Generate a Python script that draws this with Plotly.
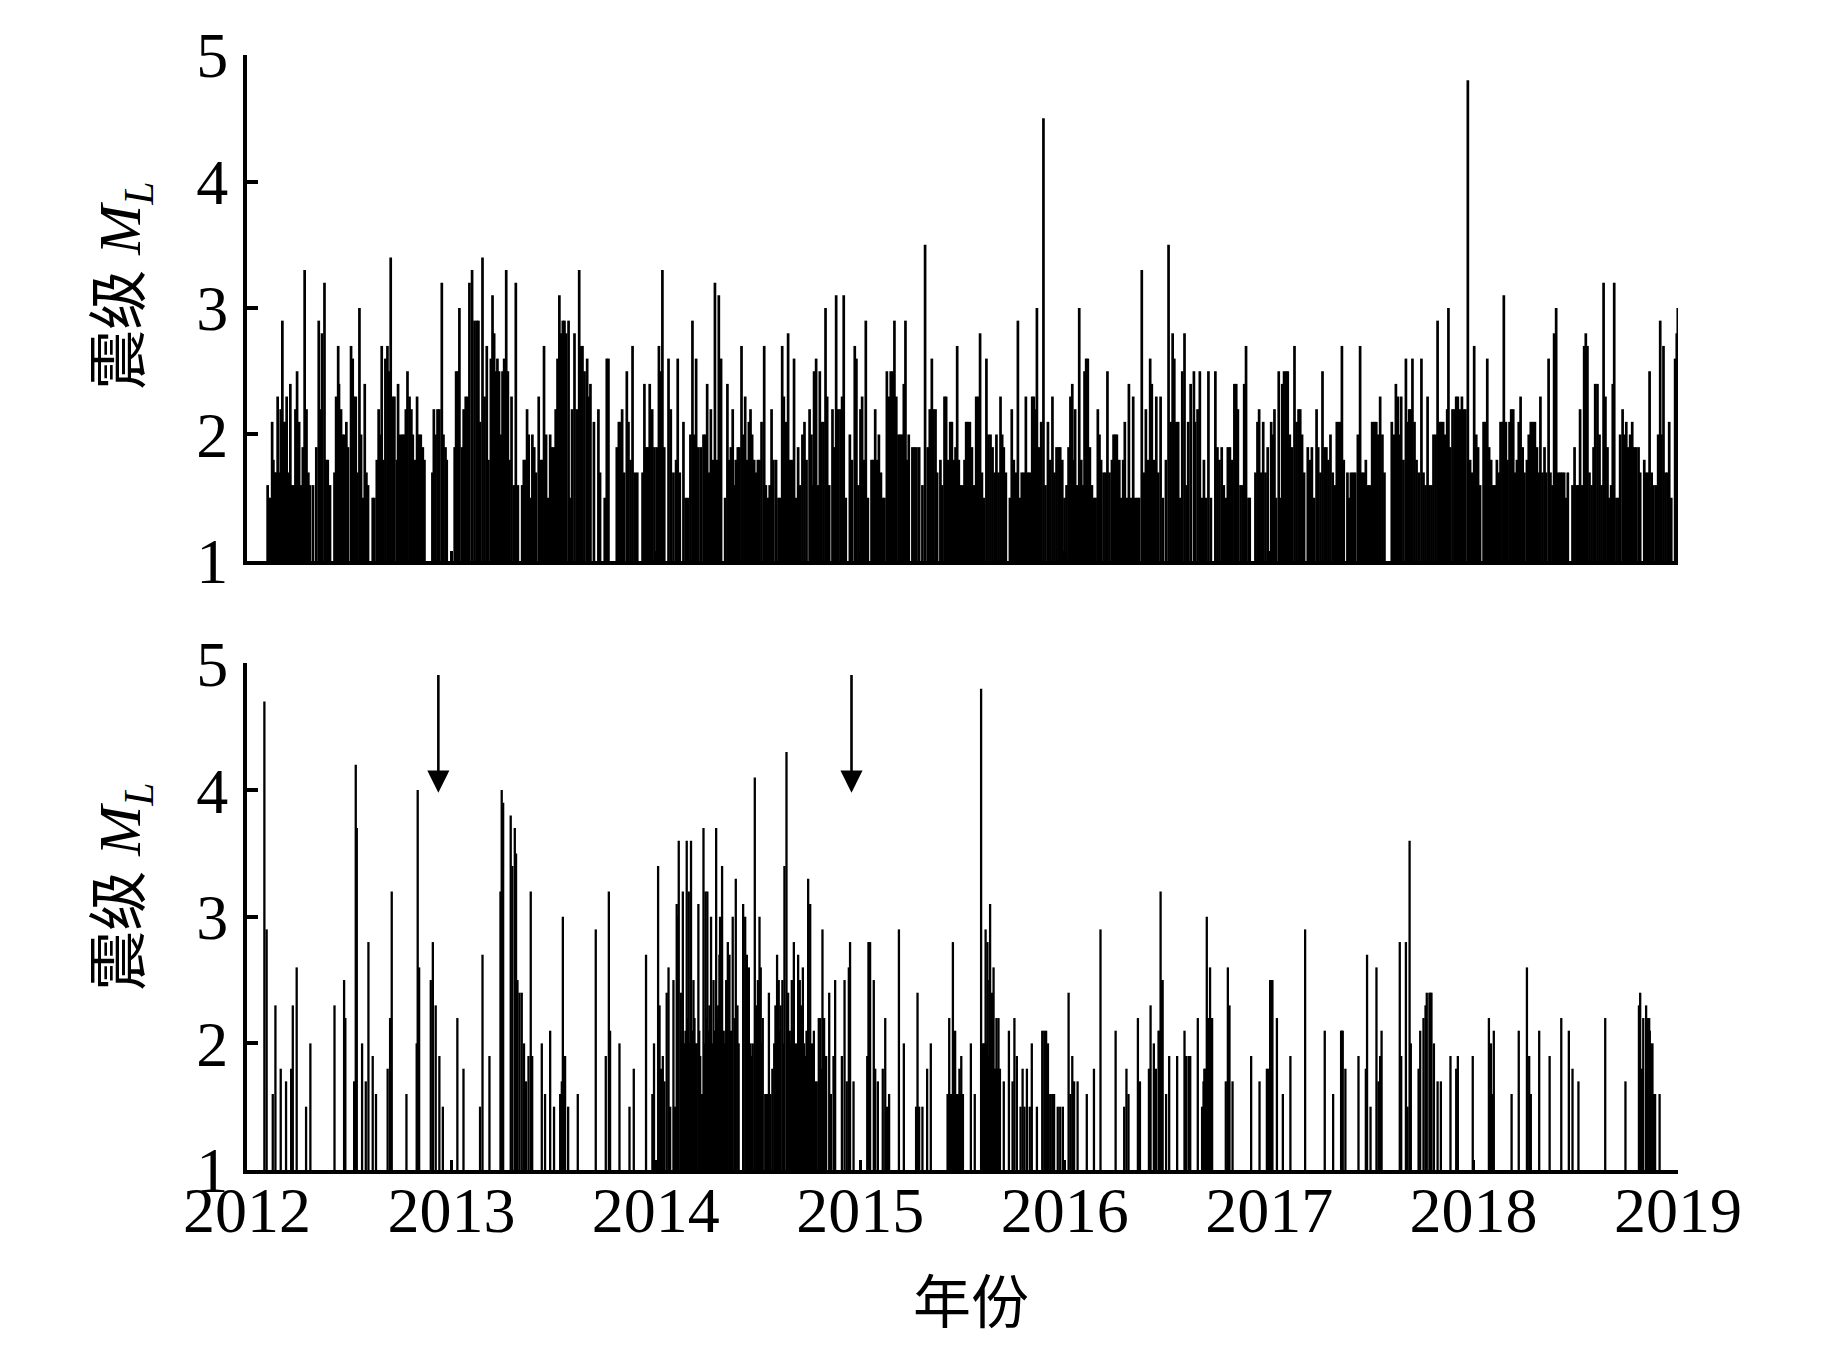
import plotly.graph_objects as go

# Magnitude (ML) events: (decimal year, magnitude)
# ---- upper panel ----
top_2012 = [(2012.101, 1.6), (2012.105, 1.5), (2012.113, 1.5), (2012.123, 2.1), (2012.129, 1.8), (2012.136, 1.7),
            (2012.142, 1.7), (2012.150, 2.3), (2012.158, 1.7), (2012.165, 2.2), (2012.173, 2.9), (2012.180, 2.1),
            (2012.188, 2.1), (2012.194, 2.3), (2012.204, 1.7), (2012.212, 2.4), (2012.219, 1.6), (2012.229, 1.6),
            (2012.237, 2.2), (2012.245, 2.5), (2012.255, 2.1), (2012.264, 1.6), (2012.273, 1.9), (2012.282, 3.3),
            (2012.291, 2.2), (2012.300, 1.7), (2012.308, 1.6), (2012.323, 1.6), (2012.339, 1.9), (2012.351, 2.9),
            (2012.359, 2.2), (2012.367, 2.8), (2012.379, 3.2), (2012.387, 1.8), (2012.395, 1.8), (2012.406, 1.6),
            (2012.428, 1.7), (2012.436, 2.3), (2012.446, 2.7), (2012.450, 2.4), (2012.460, 2.2), (2012.468, 2.0),
            (2012.478, 2.0), (2012.486, 2.1), (2012.494, 1.9), (2012.509, 2.7), (2012.517, 2.6), (2012.522, 2.3),
            (2012.532, 2.3), (2012.540, 1.7), (2012.550, 3.0), (2012.558, 2.0), (2012.566, 1.5), (2012.576, 2.4),
            (2012.584, 1.7), (2012.592, 1.6), (2012.615, 1.5), (2012.623, 1.5), (2012.635, 1.8), (2012.644, 2.2),
            (2012.653, 2.0), (2012.659, 2.7), (2012.667, 1.8), (2012.677, 2.6), (2012.687, 2.7), (2012.695, 2.5),
            (2012.703, 3.4), (2012.713, 2.3), (2012.721, 2.3), (2012.733, 1.8), (2012.739, 2.4), (2012.749, 2.0),
            (2012.760, 2.0), (2012.767, 2.0), (2012.777, 2.2), (2012.785, 2.5), (2012.795, 2.3), (2012.804, 2.2),
            (2012.811, 2.0), (2012.822, 1.8), (2012.832, 2.3), (2012.842, 2.0), (2012.850, 2.0), (2012.860, 1.9),
            (2012.868, 1.8), (2012.907, 1.7), (2012.914, 2.2), (2012.922, 2.0), (2012.932, 2.2), (2012.941, 2.2),
            (2012.953, 3.2), (2012.961, 2.0), (2012.971, 1.9), (2012.977, 1.8)]
top_2013 = [(2013.016, 1.9), (2013.023, 2.5), (2013.031, 2.5), (2013.039, 3.0), (2013.051, 1.9), (2013.060, 2.2),
            (2013.070, 2.3), (2013.080, 2.3), (2013.088, 3.2), (2013.101, 3.3), (2013.113, 2.9), (2013.124, 2.9),
            (2013.132, 2.9), (2013.140, 2.1), (2013.152, 3.4), (2013.162, 2.3), (2013.173, 2.7), (2013.181, 1.8),
            (2013.193, 2.6), (2013.201, 3.1), (2013.209, 2.8), (2013.217, 2.5), (2013.225, 2.6), (2013.233, 2.5),
            (2013.241, 2.0), (2013.250, 2.5), (2013.258, 2.6), (2013.268, 3.3), (2013.276, 2.5), (2013.284, 1.8),
            (2013.294, 2.3), (2013.305, 1.6), (2013.315, 3.2), (2013.325, 1.6), (2013.346, 1.6), (2013.354, 1.8),
            (2013.362, 1.8), (2013.370, 2.2), (2013.378, 2.0), (2013.387, 1.5), (2013.396, 2.0), (2013.405, 1.9),
            (2013.414, 1.7), (2013.427, 2.3), (2013.436, 1.8), (2013.444, 1.8), (2013.453, 2.7), (2013.463, 2.0),
            (2013.471, 1.5), (2013.483, 2.0), (2013.491, 1.9), (2013.501, 1.9), (2013.510, 2.2), (2013.519, 2.6),
            (2013.528, 3.1), (2013.535, 2.8), (2013.545, 2.9), (2013.553, 2.9), (2013.561, 2.8), (2013.573, 2.9),
            (2013.581, 1.5), (2013.590, 2.2), (2013.602, 2.8), (2013.613, 2.2), (2013.625, 3.3), (2013.633, 2.7),
            (2013.641, 2.7), (2013.651, 2.5), (2013.664, 2.6), (2013.672, 2.3), (2013.680, 2.4), (2013.697, 2.1),
            (2013.719, 2.2), (2013.727, 1.7), (2013.750, 1.5), (2013.760, 2.6), (2013.768, 2.6), (2013.809, 1.9),
            (2013.819, 2.1), (2013.827, 2.1), (2013.835, 2.2), (2013.845, 1.7), (2013.858, 2.5), (2013.866, 2.1),
            (2013.876, 1.8), (2013.886, 2.7), (2013.897, 1.7), (2013.909, 1.7), (2013.935, 1.7), (2013.944, 2.4),
            (2013.953, 1.9), (2013.961, 1.9), (2013.970, 2.4), (2013.982, 2.2), (2013.993, 1.9)]
top_2014 = [(2014.005, 1.9), (2014.015, 2.7), (2014.024, 2.5), (2014.032, 3.3), (2014.041, 1.9), (2014.062, 2.6),
            (2014.073, 2.2), (2014.086, 1.7), (2014.099, 1.8), (2014.107, 2.6), (2014.117, 1.7), (2014.135, 2.1),
            (2014.146, 1.5), (2014.158, 1.5), (2014.169, 2.0), (2014.179, 2.9), (2014.187, 2.0), (2014.197, 2.6),
            (2014.208, 1.9), (2014.220, 1.9), (2014.233, 2.0), (2014.241, 2.0), (2014.251, 2.4), (2014.259, 1.7),
            (2014.269, 2.2), (2014.279, 1.8), (2014.289, 3.2), (2014.298, 1.8), (2014.308, 3.1), (2014.319, 2.6),
            (2014.339, 1.5), (2014.350, 2.4), (2014.358, 1.8), (2014.367, 1.9), (2014.376, 2.2), (2014.385, 1.6),
            (2014.391, 1.8), (2014.401, 1.9), (2014.409, 1.9), (2014.419, 2.7), (2014.427, 2.0), (2014.437, 2.3),
            (2014.447, 1.8), (2014.455, 2.1), (2014.463, 2.2), (2014.471, 2.0), (2014.481, 1.8), (2014.489, 1.7),
            (2014.499, 1.8), (2014.507, 1.8), (2014.517, 2.1), (2014.530, 2.7), (2014.538, 1.6), (2014.548, 1.5),
            (2014.557, 1.6), (2014.566, 2.2), (2014.575, 1.8), (2014.588, 1.8), (2014.600, 1.5), (2014.608, 1.5),
            (2014.618, 2.7), (2014.626, 2.3), (2014.636, 2.1), (2014.647, 2.8), (2014.655, 1.8), (2014.667, 1.8),
            (2014.676, 2.6), (2014.686, 1.5), (2014.696, 1.9), (2014.706, 1.6), (2014.717, 2.0), (2014.727, 2.1),
            (2014.737, 1.8), (2014.752, 2.2), (2014.761, 2.0), (2014.769, 1.6), (2014.774, 2.5), (2014.784, 2.6),
            (2014.792, 1.6), (2014.802, 2.5), (2014.810, 2.1), (2014.820, 2.1), (2014.830, 3.0), (2014.838, 2.3),
            (2014.848, 1.6), (2014.864, 2.2), (2014.872, 1.9), (2014.882, 3.1), (2014.892, 2.2), (2014.903, 2.2),
            (2014.911, 2.3), (2014.919, 3.1), (2014.929, 1.5), (2014.949, 2.0), (2014.959, 1.8), (2014.973, 2.7),
            (2014.981, 2.6), (2014.991, 1.6)]
top_2015 = [(2015.001, 2.2), (2015.009, 2.3), (2015.017, 1.8), (2015.027, 2.9), (2015.037, 1.5), (2015.055, 1.8),
            (2015.063, 1.8), (2015.073, 2.2), (2015.081, 1.8), (2015.091, 2.0), (2015.101, 1.7), (2015.110, 1.5),
            (2015.118, 1.5), (2015.130, 2.5), (2015.140, 2.3), (2015.149, 2.5), (2015.159, 2.5), (2015.167, 2.9),
            (2015.176, 2.3), (2015.187, 2.0), (2015.195, 2.0), (2015.203, 2.0), (2015.213, 2.4), (2015.221, 2.9),
            (2015.228, 1.8), (2015.237, 2.0), (2015.255, 1.9), (2015.265, 1.9), (2015.275, 1.9), (2015.288, 1.9),
            (2015.304, 1.6), (2015.317, 3.5), (2015.330, 1.9), (2015.340, 2.2), (2015.350, 2.6), (2015.358, 2.2),
            (2015.368, 2.2), (2015.376, 1.7), (2015.392, 1.8), (2015.401, 1.6), (2015.412, 2.3), (2015.420, 2.3),
            (2015.430, 1.8), (2015.440, 2.1), (2015.448, 2.1), (2015.458, 1.8), (2015.466, 1.9), (2015.474, 2.7),
            (2015.482, 1.8), (2015.492, 1.6), (2015.502, 1.6), (2015.510, 1.8), (2015.518, 2.1), (2015.526, 2.1),
            (2015.536, 2.1), (2015.546, 1.9), (2015.556, 1.6), (2015.567, 2.3), (2015.577, 2.3), (2015.586, 2.8),
            (2015.595, 1.7), (2015.604, 1.5), (2015.617, 2.6), (2015.627, 2.0), (2015.637, 2.0), (2015.647, 1.9),
            (2015.657, 1.7), (2015.666, 2.0), (2015.676, 1.7), (2015.686, 2.3), (2015.694, 2.0), (2015.702, 1.9),
            (2015.712, 1.7), (2015.732, 1.5), (2015.741, 2.2), (2015.751, 1.8), (2015.763, 1.7), (2015.771, 2.9),
            (2015.781, 1.5), (2015.790, 1.7), (2015.800, 1.7), (2015.810, 2.3), (2015.820, 1.7), (2015.829, 1.7),
            (2015.841, 2.3), (2015.849, 2.3), (2015.856, 2.2), (2015.864, 3.0), (2015.874, 1.9), (2015.885, 2.1),
            (2015.896, 4.5), (2015.906, 1.6), (2015.918, 2.1), (2015.929, 1.8), (2015.940, 2.3), (2015.950, 1.7),
            (2015.960, 1.9), (2015.970, 1.9), (2015.978, 1.9), (2015.988, 1.8), (2015.999, 1.5)]
top_2016 = [(2016.009, 1.6), (2016.019, 1.9), (2016.028, 2.3), (2016.037, 2.4), (2016.045, 1.8), (2016.051, 2.2),
            (2016.061, 1.6), (2016.071, 3.0), (2016.081, 1.8), (2016.090, 1.6), (2016.097, 2.5), (2016.105, 2.6),
            (2016.113, 2.6), (2016.123, 1.9), (2016.133, 1.6), (2016.143, 1.5), (2016.151, 1.5), (2016.162, 2.2),
            (2016.170, 2.0), (2016.178, 1.8), (2016.190, 1.7), (2016.200, 1.7), (2016.209, 2.5), (2016.219, 1.7),
            (2016.231, 1.8), (2016.239, 2.0), (2016.247, 2.0), (2016.255, 2.0), (2016.267, 1.8), (2016.276, 1.5),
            (2016.286, 1.8), (2016.294, 2.1), (2016.304, 1.5), (2016.314, 2.4), (2016.324, 1.5), (2016.335, 2.3),
            (2016.345, 1.5), (2016.355, 1.5), (2016.364, 1.5), (2016.377, 3.3), (2016.387, 1.7), (2016.397, 2.2),
            (2016.408, 1.8), (2016.418, 2.6), (2016.426, 2.4), (2016.436, 1.8), (2016.448, 2.3), (2016.457, 1.7),
            (2016.469, 2.3), (2016.480, 1.5), (2016.495, 1.8), (2016.508, 3.5), (2016.518, 2.1), (2016.528, 2.8),
            (2016.536, 2.6), (2016.545, 2.1), (2016.555, 2.1), (2016.565, 1.5), (2016.575, 2.5), (2016.586, 2.8),
            (2016.596, 1.6), (2016.604, 2.1), (2016.616, 2.4), (2016.632, 2.5), (2016.638, 2.1), (2016.650, 2.2),
            (2016.661, 2.5), (2016.671, 1.5), (2016.681, 1.8), (2016.691, 1.5), (2016.703, 2.5), (2016.715, 1.5),
            (2016.737, 2.5), (2016.747, 1.9), (2016.757, 1.8), (2016.768, 1.9), (2016.778, 1.6), (2016.788, 1.5),
            (2016.798, 1.9), (2016.808, 1.9), (2016.819, 1.8), (2016.830, 2.4), (2016.839, 2.4), (2016.847, 2.2),
            (2016.860, 1.6), (2016.870, 1.6), (2016.878, 2.4), (2016.887, 2.7), (2016.899, 1.5), (2016.905, 1.5),
            (2016.933, 1.7), (2016.943, 2.1), (2016.951, 2.2), (2016.961, 1.7), (2016.971, 2.1), (2016.982, 1.7),
            (2016.993, 1.9)]
top_2017 = [(2017.010, 2.1), (2017.018, 2.0), (2017.026, 2.2), (2017.034, 1.5), (2017.047, 2.5), (2017.055, 1.5),
            (2017.064, 2.4), (2017.073, 2.5), (2017.083, 2.5), (2017.091, 2.5), (2017.101, 2.0), (2017.112, 1.9),
            (2017.124, 2.7), (2017.134, 2.1), (2017.144, 2.2), (2017.152, 2.2), (2017.161, 2.0), (2017.171, 1.7),
            (2017.189, 1.9), (2017.199, 1.8), (2017.209, 1.9), (2017.220, 1.5), (2017.232, 2.2), (2017.240, 1.9),
            (2017.251, 1.7), (2017.261, 2.5), (2017.271, 1.9), (2017.280, 1.9), (2017.290, 1.8), (2017.300, 2.0),
            (2017.311, 1.7), (2017.321, 1.6), (2017.331, 2.1), (2017.341, 2.1), (2017.351, 2.1), (2017.356, 2.7),
            (2017.365, 1.8), (2017.383, 1.7), (2017.391, 1.5), (2017.400, 1.7), (2017.411, 1.7), (2017.421, 1.7),
            (2017.434, 2.0), (2017.445, 2.7), (2017.453, 1.7), (2017.463, 1.7), (2017.473, 1.8), (2017.483, 1.6),
            (2017.492, 1.6), (2017.504, 2.1), (2017.514, 2.1), (2017.524, 2.1), (2017.533, 2.0), (2017.543, 2.3),
            (2017.554, 2.0), (2017.564, 1.7), (2017.600, 2.1), (2017.610, 2.0), (2017.620, 2.4), (2017.630, 2.3),
            (2017.638, 2.0), (2017.646, 2.3), (2017.657, 1.8), (2017.669, 2.6), (2017.677, 2.1), (2017.685, 2.2),
            (2017.693, 2.2), (2017.701, 2.6), (2017.711, 2.1), (2017.721, 1.8), (2017.732, 1.7), (2017.745, 2.6),
            (2017.755, 1.7), (2017.765, 1.6), (2017.775, 2.3), (2017.784, 1.6), (2017.794, 1.6), (2017.804, 2.0),
            (2017.814, 2.0), (2017.824, 2.9), (2017.833, 2.1), (2017.842, 2.1), (2017.851, 2.1), (2017.861, 2.0),
            (2017.871, 2.2), (2017.877, 3.0), (2017.886, 1.9), (2017.897, 2.2), (2017.907, 2.2), (2017.915, 2.3),
            (2017.923, 2.3), (2017.933, 2.2), (2017.943, 2.3), (2017.951, 2.2), (2017.960, 2.2), (2017.972, 4.8),
            (2017.983, 1.8), (2017.993, 1.7)]
top_2018 = [(2018.003, 2.7), (2018.013, 2.0), (2018.022, 1.9), (2018.032, 1.6), (2018.049, 2.1), (2018.058, 2.1),
            (2018.067, 2.6), (2018.076, 1.9), (2018.086, 1.8), (2018.096, 1.6), (2018.106, 1.6), (2018.114, 1.8),
            (2018.124, 1.7), (2018.132, 2.1), (2018.142, 2.1), (2018.148, 3.1), (2018.158, 2.1), (2018.166, 1.8),
            (2018.176, 2.1), (2018.184, 2.2), (2018.194, 2.2), (2018.203, 1.7), (2018.212, 1.8), (2018.221, 2.1),
            (2018.230, 2.3), (2018.240, 1.9), (2018.249, 1.7), (2018.261, 1.8), (2018.270, 2.0), (2018.280, 2.1),
            (2018.290, 2.1), (2018.300, 2.1), (2018.310, 1.9), (2018.319, 1.7), (2018.327, 2.3), (2018.337, 1.7),
            (2018.347, 1.9), (2018.355, 1.7), (2018.367, 2.6), (2018.376, 1.7), (2018.386, 1.6), (2018.394, 2.8),
            (2018.404, 3.0), (2018.414, 1.7), (2018.424, 1.7), (2018.433, 1.7), (2018.443, 1.7), (2018.451, 1.5),
            (2018.461, 1.7), (2018.484, 1.6), (2018.494, 1.9), (2018.504, 1.6), (2018.512, 1.6), (2018.521, 2.2),
            (2018.531, 1.6), (2018.541, 2.7), (2018.549, 2.8), (2018.557, 2.7), (2018.567, 1.7), (2018.577, 1.6),
            (2018.587, 1.9), (2018.595, 2.4), (2018.606, 2.4), (2018.616, 2.0), (2018.626, 1.6), (2018.636, 3.2),
            (2018.645, 2.3), (2018.655, 1.9), (2018.663, 1.5), (2018.673, 1.6), (2018.681, 2.4), (2018.688, 3.2),
            (2018.699, 1.5), (2018.709, 1.5), (2018.717, 2.0), (2018.729, 2.2), (2018.737, 2.0), (2018.747, 2.1),
            (2018.756, 1.9), (2018.766, 2.0), (2018.776, 2.1), (2018.786, 1.9), (2018.795, 1.9), (2018.807, 1.9),
            (2018.815, 1.7), (2018.835, 1.8), (2018.843, 1.7), (2018.853, 1.7), (2018.861, 2.5), (2018.871, 1.7),
            (2018.880, 1.6), (2018.892, 1.6), (2018.903, 2.0), (2018.913, 2.9), (2018.919, 2.0), (2018.929, 2.7),
            (2018.939, 1.7), (2018.949, 1.7), (2018.957, 2.1), (2018.967, 1.5), (2018.986, 2.6), (2018.994, 2.8),
            (2018.999, 3.0)]

# ---- lower panel ----
bottom_2012 = [(2012.085, 4.7), (2012.096, 2.9), (2012.126, 1.6), (2012.139, 2.3), (2012.165, 1.8), (2012.191, 1.7),
               (2012.216, 1.8), (2012.224, 2.3), (2012.243, 2.6), (2012.289, 1.5), (2012.310, 2.0), (2012.428, 2.3),
               (2012.475, 2.5), (2012.481, 2.2), (2012.524, 1.7), (2012.532, 4.2), (2012.537, 3.7), (2012.563, 2.0),
               (2012.581, 1.7), (2012.594, 2.8), (2012.615, 1.9), (2012.631, 1.6), (2012.688, 1.8), (2012.700, 2.2),
               (2012.708, 3.2), (2012.780, 1.6), (2012.830, 2.0), (2012.835, 4.0), (2012.842, 2.6), (2012.899, 2.5),
               (2012.909, 2.8), (2012.923, 2.3), (2012.941, 1.9), (2012.958, 1.5)]
bottom_2013 = [(2013.029, 2.2), (2013.059, 1.8), (2013.140, 1.5), (2013.152, 2.7), (2013.186, 1.9), (2013.240, 3.2),
               (2013.246, 4.0), (2013.253, 3.9), (2013.290, 3.8), (2013.298, 3.4), (2013.310, 3.7), (2013.316, 3.5),
               (2013.323, 2.5), (2013.333, 2.4), (2013.344, 2.4), (2013.355, 2.0), (2013.365, 1.7), (2013.377, 1.9),
               (2013.388, 3.2), (2013.395, 1.9), (2013.442, 2.0), (2013.458, 1.6), (2013.483, 2.1), (2013.502, 1.5),
               (2013.532, 1.6), (2013.540, 1.7), (2013.545, 3.0), (2013.556, 1.9), (2013.571, 1.5), (2013.618, 1.6),
               (2013.706, 2.9), (2013.755, 1.9), (2013.770, 3.2), (2013.776, 2.1), (2013.822, 2.0), (2013.871, 1.5),
               (2013.892, 1.8), (2013.952, 2.7), (2013.983, 1.6), (2013.991, 2.0)]
bottom_2014 = [(2014.011, 3.4), (2014.018, 2.3), (2014.026, 1.8), (2014.034, 1.9), (2014.042, 1.7), (2014.053, 2.4),
               (2014.062, 2.6), (2014.070, 1.5), (2014.086, 2.5), (2014.094, 1.5), (2014.102, 3.1), (2014.106, 3.0),
               (2014.112, 3.6), (2014.122, 2.4), (2014.127, 2.0), (2014.132, 3.2), (2014.138, 2.0), (2014.145, 2.1),
               (2014.151, 3.6), (2014.156, 2.2), (2014.161, 3.2), (2014.167, 2.0), (2014.172, 3.6), (2014.178, 2.1),
               (2014.184, 2.5), (2014.189, 2.2), (2014.194, 2.0), (2014.200, 2.0), (2014.208, 3.1), (2014.212, 2.1),
               (2014.217, 1.9), (2014.225, 1.6), (2014.233, 3.7), (2014.238, 2.0), (2014.243, 3.2), (2014.248, 2.2),
               (2014.252, 3.2), (2014.257, 2.1), (2014.262, 2.3), (2014.270, 3.0), (2014.276, 2.0), (2014.282, 2.5),
               (2014.289, 2.1), (2014.295, 3.7), (2014.300, 2.2), (2014.305, 2.3), (2014.311, 2.7), (2014.314, 3.0),
               (2014.324, 3.4), (2014.332, 2.1), (2014.338, 2.0), (2014.344, 2.5), (2014.352, 2.8), (2014.360, 2.7),
               (2014.368, 2.1), (2014.376, 3.0), (2014.385, 2.2), (2014.391, 3.3), (2014.399, 2.3), (2014.405, 2.0),
               (2014.427, 3.1), (2014.437, 3.0), (2014.445, 2.7), (2014.455, 2.6), (2014.463, 2.0), (2014.468, 1.9),
               (2014.474, 2.0), (2014.484, 4.1), (2014.492, 2.3), (2014.499, 2.5), (2014.507, 3.0), (2014.513, 2.6),
               (2014.518, 2.0), (2014.523, 2.2), (2014.535, 1.6), (2014.544, 1.6), (2014.553, 2.4), (2014.561, 1.6),
               (2014.570, 1.8), (2014.579, 2.0), (2014.585, 2.3), (2014.593, 2.7), (2014.601, 2.5), (2014.605, 2.1),
               (2014.610, 2.3), (2014.619, 2.5), (2014.624, 2.0), (2014.629, 3.4), (2014.639, 4.3), (2014.647, 2.4),
               (2014.655, 2.1), (2014.660, 2.0), (2014.665, 2.5), (2014.670, 2.1), (2014.675, 2.8), (2014.681, 2.0),
               (2014.686, 1.6), (2014.691, 2.0), (2014.696, 2.7), (2014.704, 2.5), (2014.711, 2.3), (2014.719, 2.6),
               (2014.725, 2.0), (2014.730, 1.9), (2014.737, 2.1), (2014.745, 3.3), (2014.750, 2.0), (2014.755, 3.1),
               (2014.763, 2.0), (2014.768, 1.9), (2014.773, 2.1), (2014.779, 1.7), (2014.787, 1.7), (2014.797, 2.2),
               (2014.805, 2.2), (2014.810, 1.8), (2014.815, 2.9), (2014.823, 2.2), (2014.828, 1.7), (2014.833, 1.9),
               (2014.848, 2.4), (2014.856, 1.6), (2014.869, 1.9), (2014.877, 2.5), (2014.910, 1.9), (2014.923, 2.5),
               (2014.934, 1.7), (2014.944, 2.6), (2014.950, 2.8), (2014.967, 1.7)]
bottom_2015 = [(2015.034, 1.9), (2015.040, 2.8), (2015.048, 2.8), (2015.066, 2.5), (2015.073, 1.8), (2015.086, 1.7),
               (2015.110, 1.8), (2015.122, 2.2), (2015.130, 1.5), (2015.141, 1.6), (2015.189, 2.9), (2015.213, 2.0),
               (2015.273, 1.5), (2015.280, 2.4), (2015.288, 1.5), (2015.304, 1.5), (2015.327, 1.8), (2015.345, 2.0),
               (2015.427, 1.6), (2015.431, 1.6), (2015.435, 2.2), (2015.443, 1.6), (2015.448, 1.6), (2015.453, 2.8),
               (2015.458, 1.6), (2015.464, 2.1), (2015.470, 1.6), (2015.476, 1.6), (2015.481, 1.6), (2015.485, 1.8),
               (2015.489, 1.6), (2015.494, 1.9), (2015.498, 1.5), (2015.502, 1.6), (2015.541, 2.0), (2015.560, 1.6),
               (2015.591, 4.8), (2015.597, 2.0), (2015.604, 2.0), (2015.608, 2.0), (2015.613, 2.9), (2015.617, 2.0),
               (2015.622, 2.8), (2015.626, 1.9), (2015.631, 2.5), (2015.635, 3.1), (2015.640, 1.9), (2015.644, 2.4),
               (2015.648, 1.9), (2015.652, 2.6), (2015.657, 1.8), (2015.661, 1.8), (2015.666, 2.2), (2015.671, 1.8),
               (2015.676, 2.2), (2015.683, 1.8), (2015.702, 1.7), (2015.727, 2.1), (2015.745, 1.7), (2015.754, 2.2),
               (2015.766, 1.9), (2015.784, 1.5), (2015.794, 1.8), (2015.803, 1.5), (2015.815, 1.8), (2015.829, 1.5),
               (2015.839, 2.0), (2015.864, 1.5), (2015.890, 2.1), (2015.900, 2.1), (2015.909, 2.1), (2015.918, 2.0),
               (2015.929, 1.6), (2015.939, 1.6), (2015.948, 1.6), (2015.966, 1.5), (2015.978, 1.5), (2015.991, 1.5)]
bottom_2016 = [(2016.019, 2.4), (2016.028, 1.6), (2016.037, 1.9), (2016.046, 1.7), (2016.063, 1.7), (2016.108, 1.6),
               (2016.143, 1.8), (2016.175, 2.9), (2016.249, 2.1), (2016.291, 1.5), (2016.302, 1.8), (2016.312, 1.6),
               (2016.358, 2.2), (2016.368, 1.7), (2016.412, 1.8), (2016.420, 2.3), (2016.436, 2.0), (2016.446, 1.8),
               (2016.459, 2.1), (2016.464, 2.1), (2016.469, 3.2), (2016.474, 2.5), (2016.479, 2.5), (2016.496, 1.6),
               (2016.511, 1.9), (2016.550, 1.9), (2016.586, 2.1), (2016.594, 1.9), (2016.606, 1.9), (2016.614, 1.9),
               (2016.651, 2.2), (2016.672, 1.5), (2016.679, 1.7), (2016.683, 1.8), (2016.687, 1.8), (2016.695, 3.0),
               (2016.699, 2.2), (2016.703, 2.2), (2016.707, 2.2), (2016.711, 2.6), (2016.716, 2.2), (2016.721, 2.2),
               (2016.788, 1.7), (2016.798, 2.6), (2016.806, 2.3), (2016.821, 1.7), (2016.912, 1.9), (2016.953, 1.7),
               (2016.989, 1.8), (2016.997, 1.8)]
bottom_2017 = [(2017.005, 2.5), (2017.010, 2.5), (2017.016, 2.5), (2017.038, 2.2), (2017.067, 1.6), (2017.104, 1.9),
               (2017.176, 2.9), (2017.272, 2.1), (2017.313, 1.6), (2017.352, 2.1), (2017.356, 2.1), (2017.360, 2.1),
               (2017.373, 1.8), (2017.437, 1.9), (2017.473, 1.8), (2017.479, 2.7), (2017.496, 1.5), (2017.525, 2.6),
               (2017.535, 1.7), (2017.543, 1.9), (2017.550, 2.1), (2017.639, 2.8), (2017.646, 1.9), (2017.669, 2.8),
               (2017.677, 1.5), (2017.687, 3.6), (2017.693, 2.0), (2017.731, 1.8), (2017.739, 2.1), (2017.755, 2.2),
               (2017.765, 2.3), (2017.771, 2.4), (2017.784, 2.4), (2017.789, 2.4), (2017.794, 2.4), (2017.806, 2.0),
               (2017.824, 1.7), (2017.840, 1.7), (2017.887, 1.9), (2017.915, 1.8), (2017.923, 1.9), (2017.996, 1.9)]
bottom_2018 = [(2018.075, 2.2), (2018.085, 2.0), (2018.091, 1.6), (2018.099, 2.1), (2018.186, 1.6), (2018.221, 2.1),
               (2018.261, 2.6), (2018.272, 1.9), (2018.280, 1.6), (2018.321, 2.1), (2018.372, 1.9), (2018.429, 2.2),
               (2018.466, 2.1), (2018.484, 1.8), (2018.513, 1.7), (2018.644, 2.2), (2018.743, 1.7), (2018.809, 2.3),
               (2018.815, 2.4), (2018.823, 1.8), (2018.830, 2.2), (2018.844, 2.3), (2018.850, 2.2), (2018.859, 2.2),
               (2018.862, 2.1), (2018.867, 2.0), (2018.875, 2.0), (2018.880, 1.6), (2018.888, 1.6), (2018.910, 1.6)]

# marked events in the lower panel
arrow_years = [2012.936, 2014.957]
arrow_from = 4.92
arrow_to = 3.98

year_ticks = list(range(2012, 2020))
mag_ticks = [1, 2, 3, 4, 5]
mag_floor = 1

top_events = top_2012 + top_2013 + top_2014 + top_2015 + top_2016 + top_2017 + top_2018
bottom_events = bottom_2012 + bottom_2013 + bottom_2014 + bottom_2015 + bottom_2016 + bottom_2017 + bottom_2018


def stems(events):
    xs, ys = [], []
    for t, m in events:
        xs += [t, t, None]
        ys += [mag_floor, m, None]
    return xs, ys


SERIF = "Liberation Serif"
LABEL_FONT = "Liberation Serif, Noto Sans CJK SC"

fig = go.Figure()
for events, xa, ya, lw in [(top_events, "x", "y", 2.7), (bottom_events, "x2", "y2", 2.3)]:
    sx, sy = stems(events)
    fig.add_trace(go.Scatter(x=sx, y=sy, mode="lines", xaxis=xa, yaxis=ya,
                             line=dict(color="black", width=lw), hoverinfo="skip", showlegend=False))

x_common = dict(range=[2012, 2019], tickvals=year_ticks, ticks="inside", ticklen=10, tickwidth=3,
                tickcolor="black", showline=True, linewidth=4, linecolor="black",
                showgrid=False, zeroline=False, tickfont=dict(family=SERIF, size=64, color="black"))
y_common = dict(range=[1, 5], tickvals=mag_ticks, ticks="inside", ticklen=11, tickwidth=4,
                tickcolor="black", showline=True, linewidth=4, linecolor="black",
                showgrid=False, zeroline=False, ticklabelstandoff=2,
                tickfont=dict(family=SERIF, size=64, color="black"))

# the page body adds an 8 px offset, so the figure is 8 px smaller than the window
fig.update_layout(
    width=1835, height=1338,
    margin=dict(l=239, r=165, t=36, b=176),
    paper_bgcolor="white", plot_bgcolor="white",
    xaxis=dict(x_common, anchor="y", domain=[0, 1], showticklabels=False),
    yaxis=dict(y_common, anchor="x", domain=[0.5462, 1]),
    xaxis2=dict(x_common, anchor="y2", domain=[0, 1], ticklabelstandoff=-19),
    yaxis2=dict(y_common, anchor="x2", domain=[0, 0.4543]),
)

ylabel = "震级 <i>M</i><sub><i>L</i></sub>"
fig.add_annotation(text=ylabel, xref="paper", yref="paper", x=-0.0853, y=0.7931, textangle=-90,
                   showarrow=False, xanchor="center", yanchor="middle",
                   font=dict(family=LABEL_FONT, size=60, color="black"))
fig.add_annotation(text=ylabel, xref="paper", yref="paper", x=-0.0853, y=0.2540, textangle=-90,
                   showarrow=False, xanchor="center", yanchor="middle",
                   font=dict(family=LABEL_FONT, size=60, color="black"))
fig.add_annotation(text="年份", xref="paper", yref="paper", x=0.506, y=-0.1146, showarrow=False,
                   xanchor="center", yanchor="middle",
                   font=dict(family="Noto Sans CJK SC", size=58, color="black"))

for t in arrow_years:
    fig.add_annotation(x=t, y=arrow_to, ax=t, ay=arrow_from, xref="x2", yref="y2", axref="x2", ayref="y2",
                       text="", showarrow=True, arrowhead=2, arrowsize=1.7, arrowwidth=2.6,
                       arrowcolor="black", standoff=0)

fig.write_html("out.html")
